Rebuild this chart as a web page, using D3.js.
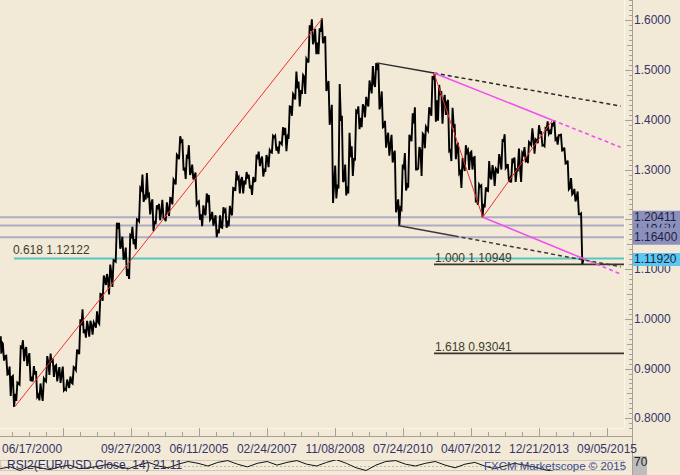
<!DOCTYPE html>
<html><head><meta charset="utf-8">
<script src="https://cdn.jsdelivr.net/npm/d3@7"></script>
<style>
html,body{margin:0;padding:0;background:#F2EAD6;}
svg{display:block;font-family:"Liberation Sans",Arial,sans-serif;}
</style>
</head><body>
<svg id="c" width="680" height="475"></svg>
<script>
// ---------- DATA (EUR/USD weekly chart, read as monthly H/L/C) ----------
const startDate = "2000-06-17";
const endDate = "2015-02-02";
const firstOpen = 0.955;
const highs = [
0.965,0.950,0.926,0.904,0.885,0.872,0.944,
0.957,0.943,0.931,0.905,0.895,0.870,0.880,0.925,0.930,0.920,0.907,0.903,
0.904,0.878,0.884,0.903,0.938,0.999,1.019,0.996,0.996,0.993,1.015,1.050,
1.087,1.090,1.109,1.118,1.193,1.193,1.165,1.143,1.168,1.185,1.200,1.263,
1.290,1.293,1.250,1.240,1.228,1.231,1.239,1.234,1.243,1.280,1.330,1.367,
1.358,1.327,1.349,1.310,1.294,1.236,1.228,1.252,1.249,1.215,1.208,1.208,
1.224,1.219,1.227,1.263,1.297,1.285,1.285,1.295,1.290,1.285,1.330,1.336,
1.326,1.329,1.339,1.368,1.368,1.355,1.385,1.384,1.427,1.452,1.497,1.477,
1.490,1.523,1.590,1.602,1.583,1.584,1.604,1.568,1.478,1.430,1.308,1.472,
1.408,1.310,1.374,1.347,1.418,1.427,1.431,1.446,1.479,1.508,1.514,1.513,
1.457,1.398,1.374,1.370,1.338,1.240,1.310,1.333,1.370,1.413,1.425,1.345,
1.372,1.386,1.425,1.488,1.494,1.470,1.458,1.450,1.440,1.424,1.388,1.354,
1.323,1.349,1.339,1.336,1.325,1.270,1.268,1.264,1.317,1.309,1.302,1.331,
1.359,1.371,1.311,1.322,1.324,1.342,1.334,1.345,1.355,1.383,1.361,1.389,
1.375,1.383,1.397,1.394,1.399,1.369,1.370,1.344,1.318,1.283,1.261,1.256,
1.212];
const lows = [
0.930,0.916,0.888,0.845,0.823,0.835,0.868,
0.915,0.905,0.875,0.874,0.843,0.836,0.835,0.874,0.887,0.883,0.874,0.871,
0.856,0.857,0.861,0.870,0.897,0.929,0.971,0.962,0.964,0.968,0.982,0.990,
1.036,1.068,1.049,1.064,1.115,1.141,1.119,1.086,1.080,1.150,1.140,1.196,
1.235,1.240,1.210,1.176,1.190,1.198,1.202,1.196,1.207,1.230,1.270,1.321,
1.298,1.281,1.289,1.280,1.230,1.199,1.186,1.208,1.199,1.187,1.164,1.172,
1.183,1.183,1.186,1.208,1.257,1.252,1.252,1.270,1.262,1.249,1.277,1.307,
1.286,1.295,1.305,1.334,1.338,1.332,1.351,1.337,1.362,1.408,1.441,1.427,
1.452,1.452,1.515,1.552,1.532,1.532,1.554,1.458,1.390,1.233,1.242,1.262,
1.275,1.248,1.252,1.287,1.318,1.381,1.385,1.405,1.427,1.453,1.466,1.421,
1.385,1.344,1.328,1.314,1.214,1.188,1.220,1.258,1.264,1.357,1.300,1.302,
1.287,1.343,1.378,1.408,1.396,1.398,1.392,1.410,1.337,1.317,1.321,1.292,
1.263,1.297,1.299,1.300,1.236,1.229,1.204,1.224,1.257,1.280,1.267,1.292,
1.300,1.303,1.275,1.274,1.275,1.299,1.275,1.318,1.313,1.349,1.332,1.353,
1.348,1.347,1.372,1.371,1.360,1.350,1.338,1.312,1.260,1.250,1.236,1.210,
1.110];
const closes = [
0.953,0.925,0.889,0.883,0.849,0.870,0.942,
0.938,0.922,0.880,0.888,0.847,0.849,0.876,0.911,0.912,0.905,0.891,0.890,
0.859,0.869,0.872,0.901,0.933,0.987,0.979,0.981,0.986,0.988,0.993,1.049,
1.078,1.078,1.091,1.117,1.181,1.148,1.125,1.100,1.165,1.160,1.199,1.259,
1.245,1.247,1.232,1.197,1.220,1.216,1.202,1.218,1.242,1.276,1.327,1.356,
1.304,1.325,1.296,1.287,1.234,1.210,1.213,1.234,1.203,1.199,1.179,1.184,
1.216,1.192,1.212,1.262,1.282,1.279,1.278,1.282,1.268,1.276,1.325,1.320,
1.302,1.323,1.335,1.365,1.346,1.354,1.369,1.366,1.426,1.448,1.463,1.460,
1.486,1.519,1.579,1.561,1.555,1.577,1.562,1.468,1.411,1.273,1.270,1.398,
1.280,1.266,1.325,1.323,1.415,1.404,1.425,1.433,1.464,1.472,1.500,1.432,
1.387,1.363,1.351,1.330,1.227,1.223,1.305,1.268,1.362,1.393,1.300,1.338,
1.369,1.382,1.416,1.481,1.439,1.450,1.439,1.436,1.339,1.386,1.345,1.296,
1.308,1.335,1.334,1.324,1.237,1.266,1.231,1.258,1.286,1.296,1.299,1.319,
1.358,1.306,1.282,1.317,1.300,1.301,1.330,1.322,1.352,1.359,1.359,1.374,
1.349,1.381,1.377,1.387,1.363,1.369,1.339,1.313,1.263,1.253,1.245,1.210,
1.1192];

// axis ticks
const xAxisDomain = ["2000-06-17", "2015-09-05"];
const xTickDates = ["2002-01-12","2003-09-27","2005-06-11","2007-02-24","2008-11-08","2010-07-24","2012-04-07","2013-12-21","2015-09-05"];
const xTickLabels = ["","09/27/2003","06/11/2005","02/24/2007","11/08/2008","07/24/2010","04/07/2012","12/21/2013","09/05/2015"];
const xFirstLabel = "06/17/2000";
const yTicks = [0.8,0.9,1.0,1.1,1.2,1.3,1.4,1.5,1.6];

// horizontal levels (drawn in this order: middle one first, partly hidden)
const greyLevels = [1.18757, 1.20411, 1.16400];
const currentPrice = 1.11920;
const fib618 = {label:"0.618", value:1.12122, from:"2000-10-20"};
const fibExt = [{label:"1.000", value:1.10949, from:"2011-05-04"},
                {label:"1.618", value:0.93041, from:"2011-05-04"}];

// trendlines  [date, price]
const redLeg1 = [["2000-10-26",0.8228],["2008-07-15",1.6038]];
const redLeg2 = [["2011-05-04",1.4940],["2012-07-24",1.2042],["2014-04-24",1.3993]];
const magentaUpper = [["2011-05-04",1.4940],["2014-04-24",1.3993]];
const magentaLower = [["2012-07-24",1.2042],["2015-01-30",1.1210]];
const blackUpper = [["2009-11-25",1.5144],["2011-05-04",1.4940]];
const blackLower = [["2010-06-07",1.1876],["2015-01-30",1.1185]];
const blackLowerSolidEnd = "2011-11-10";
const extendTo = "2016-01-08";

// RSI sub-panel (only top portion visible)
const rsiValues = [67,69,65,70,68,66,69,71,67,68,70,72,69,67,71,74,70,68,72,75,
73,70,74,76,72,69,73,75,71,74,76,72,70,74,77,73,68,65,71,75,
76,72,70,73,75,71,68,72,74,70,67,70,73,71,69,66,64,60,50,30];
const rsiLabel = "RSI2(EUR/USD.Close, 14) 21.11";
const rsiLevel = "70";
const copyright = "FXCM Marketscope \u00A9 2015";

// ---------- DRAW ----------
const svg = d3.select("#c");
const P = d => d3.timeParse("%Y-%m-%d")(d);
const plotR = 624, plotB = 428, axX = 632, axY = 436;
const x = d3.scaleTime().domain(xAxisDomain.map(P)).range([0.3, 607]);
const y = d3.scaleLinear().domain([0.8, 1.6]).range([418.3, 20.3]);

svg.append("rect").attr("width",680).attr("height",475).attr("fill","#F2EAD6");

const defs = svg.append("defs");
defs.append("clipPath").attr("id","plot").append("rect").attr("x",0).attr("y",0).attr("width",plotR).attr("height",plotB);
defs.append("clipPath").attr("id","rsi").append("rect").attr("x",0).attr("y",460).attr("width",plotR).attr("height",11);

const g = svg.append("g").attr("clip-path","url(#plot)");

// grey levels
greyLevels.forEach(v=>{
  g.append("line").attr("x1",0).attr("x2",plotR).attr("y1",y(v)).attr("y2",y(v))
   .attr("stroke","#ACACC4").attr("stroke-width",2);
});
// fib 0.618 (cyan)
g.append("line").attr("x1",x(P(fib618.from))).attr("x2",plotR)
  .attr("y1",y(fib618.value)).attr("y2",y(fib618.value))
  .attr("stroke","#58C6C2").attr("stroke-width",2);
svg.append("text").attr("x",x(P(fib618.from))-1).attr("y",y(fib618.value)-4)
  .attr("font-size",12).attr("fill","#3C3C30").text(fib618.label+" "+fib618.value.toFixed(5));
// fib extensions
fibExt.forEach(f=>{
  g.append("line").attr("x1",x(P(f.from))).attr("x2",plotR)
   .attr("y1",y(f.value)).attr("y2",y(f.value))
   .attr("stroke","#3A362C").attr("stroke-width",1.6);
  svg.append("text").attr("x",x(P(f.from))+1).attr("y",y(f.value)-2.5)
   .attr("font-size",12).attr("fill","#3C3C30").text(f.label+" "+f.value.toFixed(5));
});

// price path
const months = d3.timeMonth.range(new Date(2000,5,1), new Date(2015,1,1));
const pts = [];
months.forEach((m,i)=>{
  const t0 = i===0 ? P(startDate) : m;
  const t1 = i===months.length-1 ? P(endDate) : d3.timeMonth.offset(m,1);
  const o = i===0 ? firstOpen : closes[i-1];
  const c = closes[i], h = highs[i], l = lows[i];
  const seq = c>=o ? [l,h] : [h,l];
  const span = t1 - t0;
  if(i===0) pts.push([t0,o]);
  pts.push([new Date(+t0+span*0.3), seq[0]]);
  pts.push([new Date(+t0+span*0.65), seq[1]]);
  pts.push([t1, c]);
});
g.append("path").datum(pts)
  .attr("d", d3.line().x(d=>x(d[0])).y(d=>y(d[1])))
  .attr("fill","none").attr("stroke","#000").attr("stroke-width",1.9).attr("stroke-linejoin","miter");

// trendlines
const interp = (a,b,t) => { const ta=+P(a[0]), tb=+P(b[0]); return a[1]+(b[1]-a[1])*((+t-ta)/(tb-ta)); };
function seg(p1,p2,color,width,dash){
  g.append("line").attr("x1",x(p1[0])).attr("y1",y(p1[1])).attr("x2",x(p2[0])).attr("y2",y(p2[1]))
   .attr("stroke",color).attr("stroke-width",width).attr("stroke-dasharray",dash||null);
}
function poly(arr,color,width){
  for(let i=0;i<arr.length-1;i++) seg([P(arr[i][0]),arr[i][1]],[P(arr[i+1][0]),arr[i+1][1]],color,width);
}
poly(redLeg1,"#F03030",1);
poly(redLeg2,"#F03030",1);
function ray(arr,color,width,dash,solidEnd){
  const a=arr[0], b=arr[1];
  const tS = solidEnd ? P(solidEnd) : P(b[0]);
  const tE = P(extendTo);
  seg([P(a[0]),a[1]],[tS,interp(a,b,tS)],color,width);
  seg([tS,interp(a,b,tS)],[tE,interp(a,b,tE)],color,width,dash);
}
ray(blackUpper,"#2A2A2A",1.5,"4,3");
ray(blackLower,"#3A3A3A",1.5,"4,3",blackLowerSolidEnd);
ray(magentaUpper,"#F050F0",1.6,"4,3");
ray(magentaLower,"#F050F0",1.6,"4,3");

// frame lines
svg.append("line").attr("x1",plotR+0.5).attr("x2",plotR+0.5).attr("y1",0).attr("y2",plotB).attr("stroke","#FBF7EC");
svg.append("line").attr("x1",0).attr("x2",plotR).attr("y1",plotB+0.5).attr("y2",plotB+0.5).attr("stroke","#FBF7EC");
const axCol = "#A6A197";
svg.append("line").attr("x1",axX+0.5).attr("x2",axX+0.5).attr("y1",0).attr("y2",475).attr("stroke",axCol);
svg.append("line").attr("x1",0).attr("x2",axX).attr("y1",axY+0.5).attr("y2",axY+0.5).attr("stroke",axCol);

// right axis ticks
d3.range(78,165).forEach(k=>{
  const v = k/100, yy = Math.round(y(v))+0.5;
  if (yy < 0 || yy > axY) return;
  const len = k%10===0 ? 7 : (k%5===0 ? 5 : 3);
  svg.append("line").attr("x1",axX-len).attr("x2",axX).attr("y1",yy).attr("y2",yy).attr("stroke",axCol);
});
const labCol = "#35356A";
yTicks.forEach(v=>{
  svg.append("text").attr("x",634).attr("y",y(v)+4).attr("font-size",12).attr("fill",labCol).text(v.toFixed(4));
});

// bottom axis ticks
const majors = xTickDates.map(P);
majors.forEach((d,i)=>{
  const xx = Math.round(x(d))+0.5;
  svg.append("line").attr("x1",xx).attr("x2",xx).attr("y1",axY-8).attr("y2",axY).attr("stroke",axCol);
  for(let q=1;q<4;q++){
    const dm = d3.timeDay.offset(d, -Math.round(623*q/4));
    const xm = Math.round(x(dm))+0.5;
    if(xm>0) svg.append("line").attr("x1",xm).attr("x2",xm).attr("y1",axY-4).attr("y2",axY).attr("stroke",axCol);
  }
  if(xTickLabels[i]) svg.append("text").attr("x",x(d)).attr("y",453).attr("text-anchor","middle")
     .attr("font-size",12).attr("fill",labCol).text(xTickLabels[i]);
});
svg.append("text").attr("x",2).attr("y",453).attr("font-size",12).attr("fill",labCol).text(xFirstLabel);

// right-side value boxes (middle label drawn first, others overlap it like the reference)
greyLevels.forEach((v,i)=>{
  const top = i===2 ? y(v)-9.5 : y(v)-6.5;
  const h = i===2 ? 17 : 13;
  svg.append("rect").attr("x",633).attr("y",top).attr("width",47).attr("height",h).attr("fill","#8B90BC");
  svg.append("text").attr("x",634).attr("y",y(v)+4).attr("font-size",12).attr("fill","#1E1E40").text(v.toFixed(5));
});
svg.append("rect").attr("x",633).attr("y",y(currentPrice)-6.5).attr("width",47).attr("height",13).attr("fill","#5CC8F2");
svg.append("text").attr("x",634).attr("y",y(currentPrice)+4).attr("font-size",12).attr("fill","#1E1E40").text(currentPrice.toFixed(5));

// RSI panel
svg.append("rect").attr("x",0.5).attr("y",460.5).attr("width",plotR-1).attr("height",10).attr("fill","none").attr("stroke","#CFCABD");
svg.append("line").attr("x1",0).attr("x2",plotR).attr("y1",466.5).attr("y2",466.5).attr("stroke","#BDB8AC").attr("stroke-dasharray","2,2");
const rsiY = d3.scaleLinear().domain([60,80]).range([475,457]);
const rsiX = d3.scaleLinear().domain([0, rsiValues.length-1]).range([+P(startDate), +P(endDate)]);
svg.append("path").datum(rsiValues).attr("clip-path","url(#rsi)")
  .attr("d", d3.line().x((d,i)=>x(new Date(rsiX(i)))).y(d=>rsiY(d)))
  .attr("fill","none").attr("stroke","#111").attr("stroke-width",1);
svg.append("text").attr("x",7).attr("y",469).attr("font-size",12).attr("fill","#2E2E64").text(rsiLabel);
svg.append("text").attr("x",484).attr("y",470).attr("font-size",11.5).attr("fill","#3B4B90").text(copyright);
svg.append("rect").attr("x",633).attr("y",456).attr("width",14).attr("height",19).attr("fill","#BDBDBD");
svg.append("text").attr("x",634).attr("y",466).attr("font-size",12).attr("fill","#222").text(rsiLevel);
</script>
</body></html>
